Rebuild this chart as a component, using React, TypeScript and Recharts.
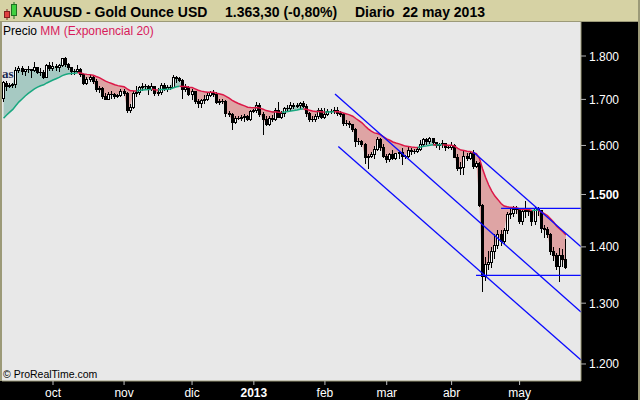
import React from 'react';
import { ComposedChart, XAxis, YAxis, Bar, Line, Area, ReferenceLine, CartesianGrid } from 'recharts';

// Daily bars, 7 Sep 2012 .. 22 May 2013 (USD per ounce)
const opens = [
  1703,1738,1730,1733,1734,1768,1772,1764,1770,1769,1768,1773,1763,1763,1752,1778,
  1772,1776,1775,1779,1795,1781,1774,1765,1765,1770,1757,1738,1746,1751,1741,1724,1726,1708,1701,1712,1712,1708,1710,
  1719,1715,1676,1684,1715,1717,1729,1730,1731,1724,1730,1714,1716,1732,1723,1729,1729,1751,1749,1743,1723,1728,
  1712,1719,1697,1692,1698,1702,1710,1716,1712,1695,1696,1696,1669,1667,1650,1659,1659,1661,1663,1656,
  1675,1676,1688,1667,1656,1646,1660,1656,1676,1662,1669,1682,1681,1687,1685,1688,1692,1686,1670,1657,1656,1663,1677,
  1662,1667,1675,1674,1677,1670,1668,1649,1649,1645,1636,1610,1610,1603,1576,1577,1582,1592,1613,1596,
  1579,1572,1582,1574,1584,1586,1578,1577,1590,1588,1589,1592,1604,1613,1609,1615,1607,1601,1603,1605,1596,
  1596,1600,1576,1554,1555,1579,1574,1585,1558,1564,1480,1348,1368,1373,1392,1403,1424,1410,1431,1462,1464,1472,
  1471,1448,1467,1469,1467,1449,1473,1469,1436,1434,1424,1393,1386,1366,1385,1377,
];
const highs = [
  1742,1741,1738,1737,1773,1777,1776,1770,1777,1770,1787,1775,1772,1766,1781,1786,
  1786,1781,1782,1796,1798,1784,1774,1770,1778,1772,1758,1751,1756,1755,1746,1730,1728,1714,1716,1719,1714,1713,1723,
  1724,1716,1689,1718,1731,1731,1737,1735,1733,1737,1731,1725,1737,1737,1733,1732,1755,1754,1750,1747,1734,1731,
  1724,1720,1700,1700,1710,1714,1719,1722,1717,1700,1701,1699,1675,1669,1664,1663,1665,1668,1665,1677,
  1679,1694,1691,1671,1663,1664,1665,1680,1694,1674,1684,1687,1694,1693,1691,1694,1696,1689,1672,1664,1667,1681,1681,
  1681,1679,1679,1683,1683,1674,1669,1655,1652,1646,1638,1615,1611,1606,1582,1587,1598,1619,1616,1604,
  1582,1584,1590,1584,1588,1595,1581,1596,1594,1593,1596,1611,1615,1616,1618,1616,1608,1605,1611,1606,1598,
  1607,1603,1582,1566,1588,1584,1588,1590,1567,1565,1482,1382,1393,1399,1424,1432,1431,1435,1465,1476,1478,1478,
  1472,1472,1487,1473,1469,1475,1475,1470,1441,1437,1426,1399,1389,1398,1396,1415,
];
const lows = [
  1697,1722,1727,1727,1727,1762,1758,1755,1763,1752,1764,1760,1755,1748,1750,1767,
  1767,1768,1765,1776,1776,1769,1759,1759,1763,1754,1736,1736,1741,1737,1719,1716,1703,1700,1700,1703,1703,1705,1708,
  1710,1673,1672,1682,1708,1713,1721,1725,1713,1721,1709,1710,1713,1721,1719,1724,1727,1740,1741,1704,1720,1709,
  1700,1691,1683,1683,1693,1698,1707,1707,1692,1689,1691,1664,1664,1635,1647,1656,1655,1653,1654,1655,
  1673,1672,1664,1625,1644,1644,1652,1654,1662,1658,1664,1675,1677,1681,1683,1682,1683,1664,1653,1652,1653,1660,1658,
  1658,1665,1670,1669,1666,1663,1644,1643,1640,1630,1598,1603,1598,1564,1554,1575,1573,1590,1591,1575,
  1566,1567,1571,1572,1574,1562,1574,1575,1582,1585,1586,1590,1602,1604,1606,1605,1596,1593,1597,1591,1594,
  1592,1576,1549,1540,1540,1570,1572,1553,1555,1478,1321,1340,1360,1363,1380,1398,1404,1405,1426,1455,1458,1463,
  1444,1443,1456,1460,1440,1442,1460,1427,1418,1419,1387,1376,1359,1338,1366,1362,
];
const closes = [
  1740,1730,1733,1734,1768,1772,1764,1770,1769,1768,1773,1763,1763,1752,1778,1772,
  1776,1775,1779,1795,1781,1774,1765,1765,1770,1757,1738,1746,1751,1741,1724,1726,1708,1701,1712,1712,1708,1710,1719,
  1715,1676,1684,1715,1717,1729,1730,1731,1724,1730,1714,1716,1732,1723,1729,1729,1751,1749,1743,1723,1728,1712,
  1719,1697,1692,1698,1702,1710,1716,1712,1695,1696,1696,1669,1667,1650,1659,1659,1661,1663,1656,1675,
  1676,1688,1667,1656,1646,1660,1656,1676,1662,1669,1682,1681,1687,1685,1688,1692,1686,1670,1657,1656,1663,1677,1662,
  1667,1675,1674,1677,1670,1668,1649,1649,1645,1636,1610,1610,1603,1576,1577,1582,1592,1613,1596,1579,
  1572,1582,1574,1584,1586,1578,1577,1590,1588,1589,1592,1604,1613,1609,1615,1607,1601,1603,1605,1596,1596,
  1600,1576,1554,1555,1579,1574,1585,1558,1564,1480,1348,1368,1373,1392,1403,1424,1410,1431,1462,1464,1472,1471,
  1448,1467,1469,1467,1449,1473,1469,1436,1434,1424,1393,1386,1366,1385,1377,1363,
];

const monthTickIdx = [16, 39, 61, 81, 104, 124, 145, 167];
const monthLabels = ['oct', 'nov', 'dic', '2013', 'feb', 'mar', 'abr', 'may'];
const priceTicks = [1200, 1300, 1400, 1500, 1600, 1700, 1800];
const emaPeriod = 20;
const emaSeed = 1650; // EMA level just before the first visible bar

// Drawn trend lines: bar index / price
const trendLines = [
  { x1: 107.26, y1: 1712.1, x2: 186.87, y2: 1285.0 },
  { x1: 152.0, y1: 1586.3, x2: 186.87, y2: 1400.4 },
  { x1: 108.33, y1: 1597.8, x2: 186.87, y2: 1206.3 },
  { x1: 161.0, y1: 1473.0, x2: 186.87, y2: 1473.0 },
  { x1: 152.9, y1: 1348.6, x2: 186.87, y2: 1348.6 },
];

const X_DOMAIN: [number, number] = [-0.505, 186.87];
const Y_DOMAIN: [number, number] = [1173.4, 1884.9];

const alpha = 2 / (emaPeriod + 1);
const emaValues: number[] = [];
{
  let prev = emaSeed;
  closes.forEach((c) => {
    prev = prev + alpha * (c - prev);
    emaValues.push(prev);
  });
}
const below = closes.map((c, i) => c < emaValues[i]);

const rows = closes.map((c, i) => {
  const e = emaValues[i];
  const redSeg = below[i] || (i + 1 < closes.length && below[i + 1]);
  const greenSeg = !below[i] || (i + 1 < closes.length && !below[i + 1]);
  return {
    i,
    o: opens[i],
    h: highs[i],
    l: lows[i],
    c,
    hl: [lows[i], highs[i]],
    red: [Math.min(c, e), e],
    green: [e, Math.max(c, e)],
    emaRed: redSeg ? e : null,
    emaGreen: greenSeg ? e : null,
  };
});

const fmtPrice = (v: number) => `${Math.floor(v / 1000)}.${String(Math.round(v % 1000)).padStart(3, '0')}`;

const FONT = 'Arial, "Liberation Sans", sans-serif';

const Candle = (props: any) => {
  const { x, y, width, height, payload } = props;
  if (x == null || y == null || !payload) return null;
  const cx = x + width / 2;
  const top = Math.min(y, y + height);
  const bot = Math.max(y, y + height);
  const lh = Math.log(payload.h);
  const ll = Math.log(payload.l);
  const toY = (v: number) => (lh === ll ? top : top + ((bot - top) * (lh - Math.log(v))) / (lh - ll));
  const yo = toY(payload.o);
  const yc = toY(payload.c);
  const up = payload.c >= payload.o;
  const L = Math.round(cx - 1.5);
  const bt = Math.round(Math.min(yo, yc));
  const bb = Math.round(Math.max(yo, yc));
  return (
    <g shapeRendering="crispEdges">
      <line x1={L + 1.5} x2={L + 1.5} y1={Math.round(top)} y2={Math.round(bot) + 1} stroke="#000" strokeWidth={1} />
      {bb - bt < 1 ? (
        <line x1={L} x2={L + 3} y1={bt + 0.5} y2={bt + 0.5} stroke="#000" strokeWidth={1} />
      ) : (
        <rect x={L + 0.5} y={bt + 0.5} width={2} height={bb - bt} fill={up ? '#fff' : '#000'} stroke="#000" strokeWidth={1} />
      )}
    </g>
  );
};

const XTick = (props: any) => {
  const { x, payload } = props;
  const k = monthTickIdx.indexOf(payload.value);
  const label = k >= 0 ? monthLabels[k] : '';
  return (
    <text x={x} y={397} textAnchor="middle" fill="#fff" fontFamily={FONT} fontSize={12} fontWeight={label === '2013' ? 'bold' : 'normal'}>
      {label}
    </text>
  );
};

const YTick = (props: any) => {
  const { y, payload } = props;
  return (
    <text x={589} y={y + 4.5} textAnchor="start" fill="#fff" fontFamily={FONT} fontSize={12} fontWeight={payload.value === 1500 ? 'bold' : 'normal'}>
      {fmtPrice(payload.value)}
    </text>
  );
};

export default function App() {
  return (
    <div style={{ position: 'absolute', left: 0, top: 0, width: 640, height: 400, background: '#000', overflow: 'hidden' }}>
      <ComposedChart width={640} height={400} data={rows} margin={{ top: 21, right: 0, bottom: 0, left: 2 }}>
        <CartesianGrid horizontal={false} vertical={false} fill="#e8e8e8" />
        <XAxis
          dataKey="i"
          type="number"
          domain={X_DOMAIN}
          allowDataOverflow
          ticks={monthTickIdx}
          interval={0}
          height={19}
          tick={<XTick />}
          tickSize={4}
          tickLine={{ stroke: '#c0c0c0' }}
          axisLine={{ stroke: '#9c9a78' }}
        />
        <YAxis
          orientation="right"
          scale="log"
          domain={Y_DOMAIN}
          allowDataOverflow
          ticks={priceTicks}
          interval={0}
          width={59}
          tick={<YTick />}
          tickSize={5}
          tickLine={{ stroke: '#b0b0b0' }}
          axisLine={{ stroke: '#9c9a78' }}
        />
        <Area dataKey="red" type="linear" stroke="none" fill="#dea4a4" fillOpacity={1} isAnimationActive={false} />
        <Area dataKey="green" type="linear" stroke="none" fill="#a6c9c2" fillOpacity={1} isAnimationActive={false} />
        <Bar dataKey="hl" barSize={3} shape={<Candle />} isAnimationActive={false} />
        <Line dataKey="emaGreen" type="linear" stroke="#1aa880" strokeWidth={1.5} dot={false} connectNulls={false} isAnimationActive={false} />
        <Line dataKey="emaRed" type="linear" stroke="#dc1848" strokeWidth={1.5} dot={false} connectNulls={false} isAnimationActive={false} />
        {trendLines.map((t, k) => (
          <ReferenceLine
            key={k}
            segment={[{ x: t.x1, y: t.y1 }, { x: t.x2, y: t.y2 }]}
            stroke="#0a0aff"
            strokeWidth={1.3}
            ifOverflow="visible"
          />
        ))}
      </ComposedChart>
      <svg width={640} height={400} style={{ position: 'absolute', left: 0, top: 0, pointerEvents: 'none' }}>
        <rect x={0} y={0} width={640} height={21} fill="#d6d2a4" />
        <line x1={0} x2={640} y1={21.5} y2={21.5} stroke="#9c9a78" />
        <rect x={0} y={21} width={2} height={360} fill="#9c9a78" />
        <rect x={638} y={0} width={2} height={400} fill="#9c9a78" />
        {/* header icon */}
        <line x1={7} x2={7} y1={9} y2={20} stroke="#802020" />
        <rect x={4.5} y={11.5} width={5} height={6} fill="#e04040" stroke="#802020" />
        <line x1={14} x2={14} y1={2} y2={19} stroke="#207020" />
        <rect x={11.5} y={4.5} width={5} height={11} fill="#40d040" stroke="#207020" />
        <text x={23} y={16.5} fontFamily={FONT} fontSize={14} fontWeight="bold" fill="#000">XAUUSD - Gold Ounce USD</text>
        <text x={225} y={16.5} fontFamily={FONT} fontSize={14} fontWeight="bold" fill="#000">1.363,30 (-0,80%)</text>
        <text x={355} y={16.5} fontFamily={FONT} fontSize={14} fontWeight="bold" fill="#000" xmlSpace="preserve">Diario  22 may 2013</text>
        <text x={3} y={34.5} fontFamily={FONT} fontSize={12} fill="#000">
          Precio <tspan fill="#d81a5a">MM (Exponencial 20)</tspan>
        </text>
        <text x={2} y={78} fontFamily="serif" fontSize={13} fontWeight="bold" fill="#1c2a50">as</text>
        <text x={3} y={377.5} fontFamily={FONT} fontSize={10.5} fill="#000">© ProRealTime.com</text>
      </svg>
    </div>
  );
}
